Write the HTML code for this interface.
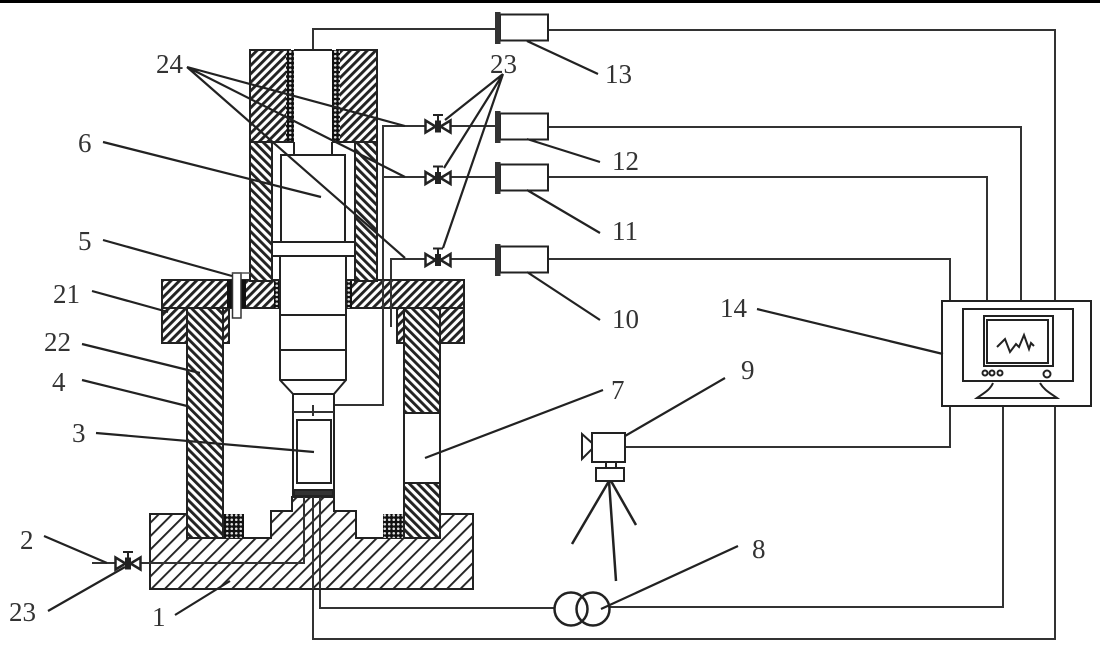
<!DOCTYPE html>
<html><head><meta charset="utf-8"><style>
html,body{margin:0;padding:0;background:#fff}
svg{display:block}
text{font-family:"Liberation Serif",serif;font-size:27px;fill:#333}
</style></head><body>
<svg width="1100" height="648" viewBox="0 0 1100 648" xmlns="http://www.w3.org/2000/svg">
<defs>
<pattern id="f" width="6" height="6" patternUnits="userSpaceOnUse" patternTransform="rotate(45)"><rect width="6" height="6" fill="#fff"/><rect width="2.900" height="6" fill="#222"/></pattern>
<pattern id="b" width="6" height="6" patternUnits="userSpaceOnUse" patternTransform="rotate(-45)"><rect width="6" height="6" fill="#fff"/><rect width="2.900" height="6" fill="#222"/></pattern>
<pattern id="w" width="9.500" height="9.500" patternUnits="userSpaceOnUse" patternTransform="rotate(45)"><rect width="9.500" height="9.500" fill="#fff"/><rect width="1.900" height="9.500" fill="#222"/></pattern>
<pattern id="d" width="4.500" height="4.500" patternUnits="userSpaceOnUse"><rect width="4.500" height="4.500" fill="#111"/><circle cx="2.250" cy="2.250" r="1.300" fill="#ddd"/></pattern>
<g id="v" fill="#fff" stroke="#222" stroke-width="2.500"><path d="M-12-6L-2 0L-12 6Z"/><path d="M13-6L3 0L13 6Z"/><path d="M0.500 0V-11.500M-4.500-11.500H5.500" fill="none" stroke-width="2"/><rect x="-2.500" y="-6" width="6" height="12" fill="#222" stroke="none"/></g>
<g id="g"><rect x="5" y="0.500" width="48" height="26" fill="#fff" stroke="#222" stroke-width="2"/><rect x="0" y="-2" width="5.500" height="32" fill="#333"/></g>
</defs>
<rect width="1100" height="648" fill="#fff"/>
<rect width="1100" height="3" fill="#000"/>

<!-- wires -->
<g fill="none" stroke="#333" stroke-width="2">
<path d="M313 50V29H495M548 30H1055V301"/>
<path d="M548 127H1021V301M548 177H987V301M548 259H950V301"/>
<path d="M950 406V447H625"/>
<path d="M1003 406V607H610M555 608H320V497"/>
<path d="M1055 406V639H313V497"/>
<path d="M92 563H304V497"/>
<path d="M405 126H495M383 327V126H405M383 177H495M391 327V259H495"/>
<path d="M383 327V405H313V416"/>
</g>

<!-- base -->
<path d="M150 514H187V538H271V511H292V497H334V511H356V538H440V514H473V589H150Z" fill="url(#w)" stroke="#222" stroke-width="2"/>
<path d="M92 563H304V497M313 497V589M320 497V589" fill="none" stroke="#333" stroke-width="2"/>
<rect x="223" y="514" width="21" height="24" fill="url(#d)"/>
<rect x="383" y="514" width="21" height="24" fill="url(#d)"/>

<!-- flange -->
<path d="M162 280H279V308H229V343H162Z" fill="url(#f)" stroke="#222" stroke-width="2"/>
<path d="M345 280H464V343H397V308H345Z" fill="url(#f)" stroke="#222" stroke-width="2"/>
<path d="M162 308H279M345 308H464" stroke="#222" stroke-width="2"/>
<rect x="274" y="281" width="5" height="27" fill="url(#d)"/>
<rect x="345" y="281" width="7" height="27" fill="url(#d)"/>

<!-- walls -->
<rect x="187" y="308" width="36" height="230" fill="url(#b)" stroke="#222" stroke-width="2"/>
<rect x="404" y="308" width="36" height="105" fill="url(#b)" stroke="#222" stroke-width="2"/>
<rect x="404" y="413" width="36" height="70" fill="#fff" stroke="#222" stroke-width="2"/>
<rect x="404" y="483" width="36" height="55" fill="url(#b)" stroke="#222" stroke-width="2"/>

<!-- upper sleeve -->
<rect x="250" y="142" width="22" height="139" fill="url(#b)" stroke="#222" stroke-width="2"/>
<rect x="355" y="142" width="22" height="139" fill="url(#b)" stroke="#222" stroke-width="2"/>
<rect x="250" y="50" width="40" height="92" fill="url(#f)" stroke="#222" stroke-width="2"/>
<rect x="337" y="50" width="40" height="92" fill="url(#f)" stroke="#222" stroke-width="2"/>
<rect x="286" y="50" width="8" height="92" fill="url(#d)"/>
<rect x="332" y="50" width="8" height="92" fill="url(#d)"/>
<path d="M294 50H332M294 142V155M332 142V155M272 142H294M332 142H355" fill="none" stroke="#222" stroke-width="2"/>

<!-- piston -->
<g fill="#fff" stroke="#222" stroke-width="2">
<path d="M281 155H345V242H281Z"/>
<rect x="272" y="242" width="83" height="14"/>
<path d="M281 256H346V380L334 394V412H293V394L280 380V256Z"/>
<path d="M280 315H346M280 350H346M280 380H346M293 394H334" fill="none"/>
<rect x="293" y="412" width="41" height="83"/>
<rect x="297" y="420" width="34" height="63"/>
<rect x="294" y="490" width="39" height="6" fill="#333"/>
</g>

<!-- pipe overlay in flange -->
<path d="M383 280V345M391 280V327M313 405V416M293 412H334" fill="none" stroke="#333" stroke-width="2"/>

<!-- bolt -->
<rect x="227" y="280" width="6" height="28" fill="#111"/>
<rect x="241" y="280" width="5" height="28" fill="#111"/>
<rect x="232.500" y="273" width="8.500" height="45" fill="#fff" stroke="#333" stroke-width="1.500"/>
<path d="M232 273H250" stroke="#555" stroke-width="1.500"/>

<!-- valves -->
<use href="#v" x="437.500" y="126.500"/>
<use href="#v" x="437.500" y="178"/>
<use href="#v" x="437.500" y="260"/>
<use href="#v" x="127.500" y="563.500"/>

<!-- gauges -->
<use href="#g" x="495" y="14"/>
<use href="#g" x="495" y="113"/>
<use href="#g" x="495" y="164"/>
<use href="#g" x="495" y="246"/>

<!-- monitor -->
<g fill="#fff" stroke="#222" stroke-width="2">
<rect x="942" y="301" width="149" height="105"/>
<rect x="963" y="309" width="110" height="72"/>
<rect x="984" y="316" width="69" height="50"/>
<rect x="987" y="320" width="61" height="43"/>
<circle cx="985" cy="373" r="2.500"/><circle cx="992" cy="373" r="2.500"/><circle cx="1000" cy="373" r="2.500"/>
<circle cx="1047" cy="374" r="3.500"/>
<path d="M993 383C990 390 984 393 977 398H1057C1050 393 1044 390 1040 383" stroke-width="2"/>
<path d="M997 347L1005 339L1010 352L1016 344L1019 347L1024 335L1029 349L1031 343L1034 346" fill="none"/>
</g>

<!-- camera -->
<g fill="#fff" stroke="#222" stroke-width="2">
<rect x="592" y="433" width="33" height="29"/>
<path d="M582 434L592 443V449L582 459Z"/>
<rect x="606" y="462" width="10" height="6"/>
<rect x="596" y="468" width="28" height="13"/>
</g>
<path d="M609 481L572 544M609 481L616 581M611 481L636 525" stroke="#222" stroke-width="2.500" fill="none"/>

<!-- transformer -->
<circle cx="571" cy="609" r="16.500" fill="none" stroke="#222" stroke-width="2.500"/>
<circle cx="593" cy="609" r="16.500" fill="none" stroke="#222" stroke-width="2.500"/>

<!-- leaders -->
<g stroke="#222" stroke-width="2.200" fill="none">
<path d="M187 67L405 126M187 67L405 177M187 67L405 258"/>
<path d="M503 74L445 120M503 74L444 168M503 74L443 248"/>
<path d="M527 41L598 74M527 139L600 162M527 190L600 233M527 272L600 320"/>
<path d="M103 142L321 197M103 240L232 276M92 291L168 312M82 344L200 373M82 380L187 406M96 433L314 452"/>
<path d="M603 390L425 458M725 378L625 436M738 546L601 609M757 309L943 354"/>
<path d="M44 536L107 563M48 611L125 567M175 615L230 581"/>
</g>

<!-- labels -->
<text x="156" y="73">24</text>
<text x="490" y="73">23</text>
<text x="605" y="83">13</text>
<text x="612" y="170">12</text>
<text x="612" y="240">11</text>
<text x="612" y="328">10</text>
<text x="720" y="317">14</text>
<text x="741" y="379">9</text>
<text x="611" y="399">7</text>
<text x="752" y="558">8</text>
<text x="78" y="152">6</text>
<text x="78" y="250">5</text>
<text x="53" y="303">21</text>
<text x="44" y="351">22</text>
<text x="52" y="391">4</text>
<text x="72" y="442">3</text>
<text x="20" y="549">2</text>
<text x="9" y="621">23</text>
<text x="152" y="626">1</text>
</svg>
</body></html>
